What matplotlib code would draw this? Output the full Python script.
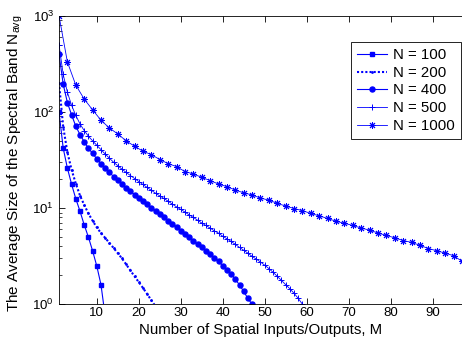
import matplotlib
matplotlib.use('Agg')
import matplotlib.pyplot as plt
from matplotlib.ticker import LogLocator, NullFormatter

plt.rcParams['font.family'] = 'Liberation Sans'
plt.rcParams['mathtext.fontset'] = 'custom'
plt.rcParams['mathtext.rm'] = 'Liberation Sans'
plt.rcParams['mathtext.it'] = 'Liberation Sans'
plt.rcParams['mathtext.default'] = 'regular'

# M values and N_avg
m100 = list(range(1, 13))
n100 = [100, 42, 26, 17.7, 12.5, 9.3, 6.7, 5.0, 3.6, 2.5, 1.6, 0.75]

m200 = list(range(1, 25))
n200 = [200, 70, 38, 25, 18, 13.5, 10.8, 8.8, 7.4, 6.3, 5.5, 4.9,
        4.35, 3.85, 3.4, 3.0, 2.6, 2.25, 1.95, 1.7, 1.48, 1.28, 1.1, 0.95]

m400 = list(range(1, 48))
n400 = [400, 194, 125, 93, 71, 58, 49, 42, 37, 32.5, 29, 26,
        23.5, 21.3, 19.4, 17.8, 16.3, 15, 13.8, 12.8, 11.8, 10.9, 10.1, 9.4,
        8.7, 8.0, 7.4, 6.9, 6.3, 5.8, 5.4, 5.0, 4.6, 4.2, 3.9, 3.6,
        3.3, 3.05, 2.8, 2.5, 2.3, 2.07, 1.82, 1.59, 1.36, 1.15, 1.0]

m500 = list(range(1, 60))
n500 = [500, 245, 160, 117, 92, 75, 64, 56, 50, 45, 40.5, 36.5,
        33, 30, 27.6, 25.4, 23.5, 21.8, 20.3, 18.9, 17.6, 16.4, 15.3, 14.3,
        13.4, 12.6, 11.8, 11.0, 10.3, 9.7, 9.1, 8.5, 8.0, 7.5, 7.0, 6.6,
        6.2, 5.8, 5.5, 5.1, 4.8, 4.5, 4.2, 3.9, 3.65, 3.4, 3.15, 2.95,
        2.75, 2.55, 2.35, 2.15, 1.95, 1.77, 1.6, 1.45, 1.3, 1.15, 1.0]

m1000 = list(range(1, 98, 2))
n1000 = [1000, 330, 190, 136, 105, 82, 68, 59, 50, 44, 39, 36,
         32, 29, 27, 24, 22.6, 20.9, 19.3, 17.8, 16.7, 15.4, 14.4, 13.7,
         12.7, 12.1, 11.2, 10.5, 9.9, 9.4, 8.8, 8.3, 7.8, 7.3, 6.95, 6.6,
         6.2, 5.9, 5.5, 5.2, 4.9, 4.6, 4.4, 4.1, 3.8, 3.6, 3.4, 3.2, 2.8]

blue = '#0000ff'
asterisk = (8, 2, 0)  # matlab style '*'

fig = plt.figure(figsize=(4.62, 3.45), dpi=100)
ax = fig.add_axes([59 / 462, 40.7 / 345, 403 / 462, 288.6 / 345])

ax.plot(m100, n100, '-s', color=blue, lw=0.8, ms=3.5, label='N = 100')
ax.plot(m200, n200, marker='.', ls=(0, (1, 1)), color=blue, lw=1.5, ms=2,
        label='N = 200')
ax.plot(m400, n400, '-o', color=blue, lw=0.8, ms=3.6, label='N = 400')
ax.plot(m500, n500, '-+', color=blue, lw=0.6, ms=4, mew=0.7, label='N = 500')
ax.plot(m1000, n1000, marker=asterisk, ls='-', color=blue, lw=0.6, ms=5,
        mew=0.7, label='N = 1000')

ax.set_yscale('log')
ax.set_xlim(1, 97)
ax.set_ylim(1, 1000)
ax.set_xticks(range(10, 100, 10))
ax.yaxis.set_minor_locator(LogLocator(base=10, subs=range(2, 10)))
ax.yaxis.set_minor_formatter(NullFormatter())

ax.tick_params(which='both', direction='in', top=True, labelsize=9.5)
ax.tick_params(which='major', length=4, width=0.6)
ax.tick_params(which='minor', length=2, width=0.5)
ax.tick_params(axis='x', pad=2)
ax.spines['right'].set_visible(False)
for s in ['left', 'top', 'bottom']:
    ax.spines[s].set_linewidth(0.6)

ax.set_xlabel('Number of Spatial Inputs/Outputs, M', fontsize=10.8, labelpad=3)
ax.set_ylabel('The Average Size of the Spectral Band N$_{avg}$', fontsize=11)
ax.yaxis.set_label_coords(-0.085, 0.49)

leg = ax.legend(loc='upper right', bbox_to_anchor=(461 / 462, 1 - 42 / 345),
                bbox_transform=fig.transFigure, borderaxespad=0,
                fontsize=10.8, handlelength=2.0, handletextpad=0.4,
                labelspacing=0.25, borderpad=0.4, fancybox=False,
                framealpha=1, edgecolor='black')
leg.get_frame().set_linewidth(0.6)

fig.savefig('out.png', dpi=100)
